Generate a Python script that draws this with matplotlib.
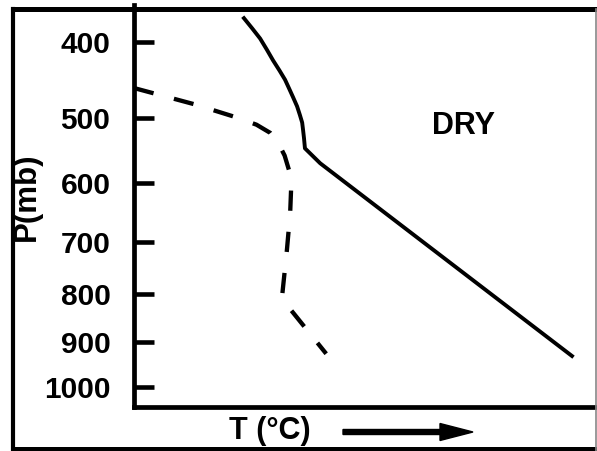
import numpy as np
import matplotlib
matplotlib.use("Agg")
import matplotlib.pyplot as plt
from matplotlib.lines import Line2D
from matplotlib.patches import FancyArrow
from matplotlib.transforms import IdentityTransform

plt.rcParams['font.family'] = ['Liberation Sans', 'DejaVu Sans']
plt.rcParams['font.weight'] = 'bold'

# temperature profile (solid) - arbitrary T units, pressure in mb
t_env = [23.8, 25.6, 27.3, 28.8, 30.1, 31.5, 32.7, 33.6, 34.4, 35.3, 35.9, 36.4, 36.6, 36.8, 37.0, 40.3, 94.8]
p_env = [372, 384, 396, 410, 423, 436, 448, 460, 471, 484, 496, 507, 518, 530, 545, 568, 930]

# dew point profile (dashed)
t_dew = [0.0, 13.0, 21.9, 26.5, 29.5, 31.3, 32.6, 33.6, 34.0, 33.8, 33.1, 32.0, 41.6]
p_dew = [459, 481, 499, 510, 522, 538, 556, 580, 610, 650, 715, 809, 925]

p_ticks = [400, 500, 600, 700, 800, 900, 1000]
kappa = 0.286

W, H = 597, 451
fig = plt.figure(figsize=(W / 100, H / 100), dpi=100)
ax = fig.add_axes([134 / W, (H - 406.5) / H, (596 - 134) / W, (406.5 - 5) / H])

ax.plot(t_env, p_env, color='black', lw=2.8, solid_joinstyle='round')
ax.plot(t_dew, p_dew, color='black', lw=3.1, dashes=(4.7, 4.9))

ax.set_yscale('function', functions=(lambda p: np.power(np.abs(p), kappa),
                                     lambda s: np.power(np.abs(s), 1 / kappa)))
ax.set_ylim(1047, 357)
ax.set_xlim(0, 100)
ax.set_yticks(p_ticks)
ax.set_yticklabels([str(p) for p in p_ticks])
ax.yaxis.set_minor_locator(matplotlib.ticker.NullLocator())
ax.set_xticks([])
ax.tick_params(axis='y', direction='in', length=14.4, width=3.3, pad=17, labelsize=21.5)
for s in ['top', 'right']:
    ax.spines[s].set_visible(False)
for s in ['left', 'bottom']:
    ax.spines[s].set_linewidth(3.4)
ax.patch.set_alpha(0)

# outer frame
def fline(x0, y0, x1, y1, lw, color='black'):
    fig.add_artist(Line2D([x0 / W, x1 / W], [1 - y0 / H, 1 - y1 / H],
                          transform=fig.transFigure, color=color, lw=lw,
                          solid_capstyle='projecting'))

fline(12.5, 8.5, 12.5, 451, 3.0)
fline(12.5, 8.5, 597, 8.5, 3.6)
fline(12.5, 449, 597, 449, 3.6)
fline(596, 8.5, 596, 451, 1.2, color='#888888')

fig.text(463.5 / W, 1 - 126.5 / H, 'DRY', ha='center', va='center', fontsize=22)
fig.text(27 / W, 1 - 197 / H, 'P(mb)', ha='center', va='center', rotation=90, fontsize=22.5)
fig.text(270 / W, 1 - 431 / H, 'T (°C)', ha='center', va='center', fontsize=22)

arrow = FancyArrow(343, H - 432, 130, 0, width=5, head_width=17, head_length=33,
                   length_includes_head=True, color='black', transform=IdentityTransform())
fig.add_artist(arrow)

fig.savefig('out.png', dpi=100)
